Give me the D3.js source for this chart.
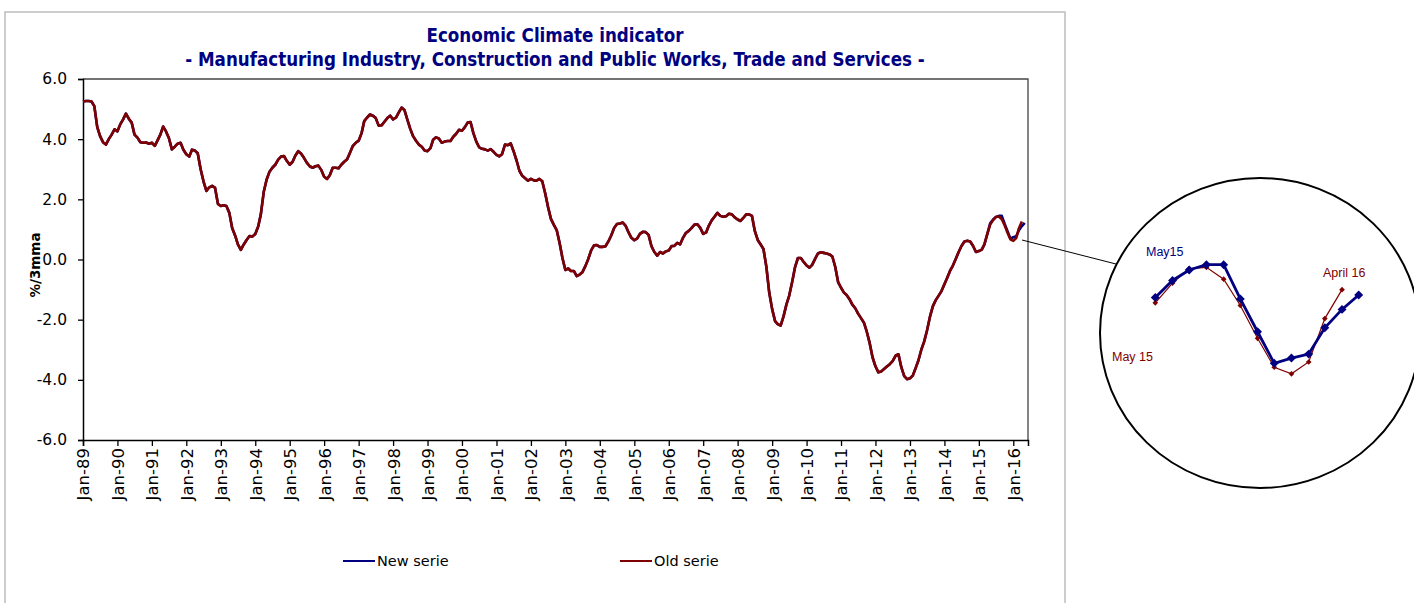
<!DOCTYPE html>
<html lang="en">
<head>
<meta charset="UTF-8">
<title>Economic Climate indicator</title>
<style>
  body { margin: 0; background: #fff; }
  svg { display: block; }
  text { font-family: "DejaVu Sans", Verdana, sans-serif; }
</style>
</head>
<body>
<script src="https://cdn.jsdelivr.net/npm/d3@7"></script>
<script>
// monthly values Jan-89 .. Apr-15 (both series are identical there)
const history = [
  5.25, 5.27, 5.27, 5.25, 5.10, 4.40, 4.10, 3.90, 3.82, 4.00, 4.15, 4.33,
  4.26, 4.50, 4.65, 4.85, 4.68, 4.55, 4.15, 4.05, 3.90, 3.88, 3.89, 3.85,
  3.88, 3.78, 3.95, 4.15, 4.42, 4.25, 4.03, 3.66, 3.75, 3.85, 3.88, 3.65,
  3.50, 3.42, 3.65, 3.62, 3.53, 3.00, 2.60, 2.28, 2.40, 2.45, 2.38, 1.85,
  1.78, 1.80, 1.78, 1.55, 1.05, 0.80, 0.50, 0.32, 0.50, 0.65, 0.78, 0.76,
  0.85, 1.10, 1.50, 2.25, 2.65, 2.92, 3.05, 3.15, 3.32, 3.42, 3.44, 3.28,
  3.15, 3.25, 3.45, 3.60, 3.52, 3.38, 3.22, 3.10, 3.05, 3.10, 3.12, 2.98,
  2.75, 2.68, 2.80, 3.05, 3.05, 3.03, 3.15, 3.25, 3.33, 3.55, 3.78, 3.88,
  3.95, 4.20, 4.60, 4.72, 4.82, 4.78, 4.70, 4.45, 4.46, 4.58, 4.70, 4.78,
  4.66, 4.72, 4.88, 5.05, 4.97, 4.65, 4.35, 4.10, 3.95, 3.82, 3.75, 3.62,
  3.60, 3.70, 3.98, 4.06, 4.02, 3.88, 3.92, 3.94, 3.94, 4.08, 4.18, 4.31,
  4.28, 4.40, 4.55, 4.57, 4.20, 3.92, 3.73, 3.68, 3.66, 3.62, 3.67, 3.58,
  3.48, 3.43, 3.50, 3.82, 3.80, 3.86, 3.60, 3.30, 2.95, 2.78, 2.70, 2.62,
  2.68, 2.63, 2.62, 2.68, 2.60, 2.20, 1.75, 1.35, 1.15, 0.98, 0.55, 0.05,
  -0.35, -0.30, -0.38, -0.38, -0.55, -0.50, -0.42, -0.22, 0.02, 0.30, 0.47, 0.48,
  0.42, 0.42, 0.44, 0.60, 0.80, 1.05, 1.18, 1.20, 1.23, 1.12, 0.90, 0.72,
  0.64, 0.70, 0.85, 0.92, 0.91, 0.82, 0.45, 0.25, 0.13, 0.25, 0.20, 0.27,
  0.30, 0.45, 0.45, 0.55, 0.50, 0.72, 0.88, 0.95, 1.05, 1.16, 1.17, 1.05,
  0.85, 0.90, 1.12, 1.30, 1.42, 1.55, 1.45, 1.42, 1.44, 1.52, 1.50, 1.40,
  1.33, 1.28, 1.38, 1.50, 1.50, 1.45, 0.95, 0.65, 0.50, 0.35, -0.25, -1.10,
  -1.65, -2.05, -2.15, -2.20, -1.90, -1.50, -1.20, -0.75, -0.25, 0.05, 0.05, -0.08,
  -0.20, -0.27, -0.18, 0.02, 0.20, 0.24, 0.22, 0.20, 0.17, 0.10, -0.25, -0.75,
  -0.94, -1.10, -1.18, -1.32, -1.50, -1.62, -1.80, -1.95, -2.10, -2.40, -2.78, -3.25,
  -3.55, -3.75, -3.72, -3.64, -3.56, -3.48, -3.38, -3.20, -3.15, -3.58, -3.88, -3.98,
  -3.95, -3.85, -3.62, -3.35, -3.00, -2.72, -2.35, -1.90, -1.55, -1.35, -1.20, -1.05,
  -0.82, -0.60, -0.38, -0.20, 0.02, 0.25, 0.45, 0.60, 0.62, 0.60, 0.45, 0.25,
  0.28, 0.33, 0.50, 0.85
];
// from May-15 the two series differ
const newTail = [1.20, 1.33, 1.41, 1.45, 1.45, 1.19, 0.94, 0.70, 0.74, 0.77, 0.97, 1.11, 1.22]; // May-15 .. May-16
const oldTail = [1.16, 1.31, 1.42, 1.43, 1.34, 1.14, 0.89, 0.67, 0.62, 0.71, 1.04, 1.26];       // May-15 .. Apr-16

const yTicks = [-6, -4, -2, 0, 2, 4, 6];
const legendItems = ["New serie", "Old serie"];

const startMonth = new Date(1989, 0, 1);
const tailStart = history.length;   // index of May-15

const newSerie = history.concat(newTail);
const oldSerie = history.concat(oldTail);

const NAVY = "#000080", RED = "#800000";
const titleFont = '"DejaVu Sans Condensed", "DejaVu Sans", sans-serif';

const svg = d3.select("body").append("svg")
    .attr("width", 1414)
    .attr("height", 603);

// outer chart frame
svg.append("rect")
    .attr("x", 5).attr("y", 12)
    .attr("width", 1060).attr("height", 620)
    .attr("fill", "none")
    .attr("stroke", "#bdbdbd")
    .attr("stroke-width", 1.5);

const x = d3.scaleTime()
    .domain([startMonth, new Date(2016, 5, 5)])
    .range([83, 1028]);
const y = d3.scaleLinear()
    .domain([-6, 6])
    .range([440, 79]);

const month = i => d3.timeMonth.offset(startMonth, i);

// plot border (top and right)
svg.append("path")
    .attr("d", `M${x.range()[0]},${y(6)}H${x.range()[1]}V${y(-6)}`)
    .attr("fill", "none")
    .attr("stroke", "#444")
    .attr("stroke-width", 1.3);

// y axis
const yAxis = svg.append("g")
    .attr("transform", `translate(${x.range()[0]},0)`)
    .call(d3.axisLeft(y).tickValues(yTicks).tickFormat(d => d.toFixed(1)).tickSize(5).tickPadding(11));
yAxis.select(".domain").attr("stroke-width", 1.5);
yAxis.selectAll(".tick line").attr("stroke-width", 1.3);
yAxis.selectAll("text")
    .attr("font-size", 15.5)
    .attr("fill", "#000")
    .style("font-family", '"DejaVu Sans", sans-serif');

// x axis
const xAxis = svg.append("g")
    .attr("transform", `translate(0,${y(-6)})`)
    .call(d3.axisBottom(x)
        .ticks(d3.timeYear.every(1))
        .tickFormat(d3.timeFormat("%b-%y"))
        .tickSize(6));
xAxis.select(".domain").attr("stroke-width", 1.5);
xAxis.selectAll(".tick line").attr("stroke-width", 1.3);
xAxis.selectAll("text")
    .attr("font-size", 16.5)
    .attr("fill", "#000")
    .style("font-family", '"DejaVu Sans", sans-serif')
    .attr("text-anchor", "end")
    .attr("transform", "rotate(-90)")
    .attr("x", -8)
    .attr("y", 0)
    .attr("dy", "0.36em");

// axis title
svg.append("text")
    .attr("transform", "translate(40,265) rotate(-90)")
    .attr("text-anchor", "middle")
    .attr("font-size", 13.5)
    .attr("font-weight", "bold")
    .text("%/3mma");

// title
svg.append("text")
    .attr("x", 555).attr("y", 42)
    .attr("text-anchor", "middle")
    .attr("font-size", 18.6)
    .attr("font-weight", "bold")
    .attr("fill", NAVY)
    .style("font-family", titleFont)
    .text("Economic Climate indicator");
svg.append("text")
    .attr("x", 555).attr("y", 66)
    .attr("text-anchor", "middle")
    .attr("font-size", 18.6)
    .attr("font-weight", "bold")
    .attr("fill", NAVY)
    .style("font-family", titleFont)
    .text("- Manufacturing Industry, Construction and Public Works, Trade and Services -");

// lines
const line = d3.line()
    .x((d, i) => x(month(i)))
    .y(d => y(d));

svg.append("path")
    .datum(newSerie)
    .attr("d", line)
    .attr("fill", "none")
    .attr("stroke", NAVY)
    .attr("stroke-width", 2.6)
    .attr("stroke-linejoin", "round");
svg.append("path")
    .datum(oldSerie)
    .attr("d", line)
    .attr("fill", "none")
    .attr("stroke", RED)
    .attr("stroke-width", 2.6)
    .attr("stroke-linejoin", "round");

// legend
const legend = svg.selectAll(".legend")
    .data(legendItems)
    .enter().append("g")
    .attr("transform", (d, i) => `translate(${343 + i * 277},561)`);
legend.append("line")
    .attr("x1", 0).attr("x2", 32)
    .attr("stroke", (d, i) => i === 0 ? NAVY : RED)
    .attr("stroke-width", 2);
legend.append("text")
    .attr("x", 34).attr("dy", "0.36em")
    .attr("font-size", 14.5)
    .text(d => d);

// zoomed inset of the last months
svg.append("line")
    .attr("x1", 1022).attr("y1", 240)
    .attr("x2", 1116).attr("y2", 264)
    .attr("stroke", "#000")
    .attr("stroke-width", 1);
svg.append("ellipse")
    .attr("cx", 1260).attr("cy", 333)
    .attr("rx", 160).attr("ry", 155)
    .attr("fill", "none")
    .attr("stroke", "#000")
    .attr("stroke-width", 2);

const ix = d3.scaleTime()
    .domain([month(tailStart), month(tailStart + 12)])
    .range([1155.3, 1358.7]);
const iy = d3.scaleLinear()
    .domain([1.45, 0.70])
    .range([264.7, 363.3]);
const iline = d3.line()
    .x((d, i) => ix(month(tailStart + i)))
    .y(d => iy(d));

const diamond = (size) => d3.symbol().type(d3.symbolSquare).size(size)();

svg.append("path")
    .datum(oldTail)
    .attr("d", iline)
    .attr("fill", "none")
    .attr("stroke", RED)
    .attr("stroke-width", 1.2);
svg.append("g").selectAll("path")
    .data(oldTail)
    .enter().append("path")
    .attr("d", diamond(16))
    .attr("transform", (d, i) => `translate(${ix(month(tailStart + i))},${iy(d)}) rotate(45)`)
    .attr("fill", RED);

svg.append("path")
    .datum(newTail)
    .attr("d", iline)
    .attr("fill", "none")
    .attr("stroke", NAVY)
    .attr("stroke-width", 2.8);
svg.append("g").selectAll("path")
    .data(newTail)
    .enter().append("path")
    .attr("d", diamond(40))
    .attr("transform", (d, i) => `translate(${ix(month(tailStart + i))},${iy(d)}) rotate(45)`)
    .attr("fill", NAVY);

const insetFont = '"Liberation Sans", Arial, sans-serif';
svg.append("text")
    .attr("x", 1146).attr("y", 256)
    .attr("font-size", 12.5)
    .attr("fill", NAVY)
    .style("font-family", insetFont)
    .text("May15");
svg.append("text")
    .attr("x", 1323).attr("y", 277)
    .attr("font-size", 12.5)
    .attr("fill", RED)
    .style("font-family", insetFont)
    .text("April 16");
svg.append("text")
    .attr("x", 1112).attr("y", 361)
    .attr("font-size", 12.5)
    .attr("fill", RED)
    .style("font-family", insetFont)
    .text("May 15");
</script>
</body>
</html>
